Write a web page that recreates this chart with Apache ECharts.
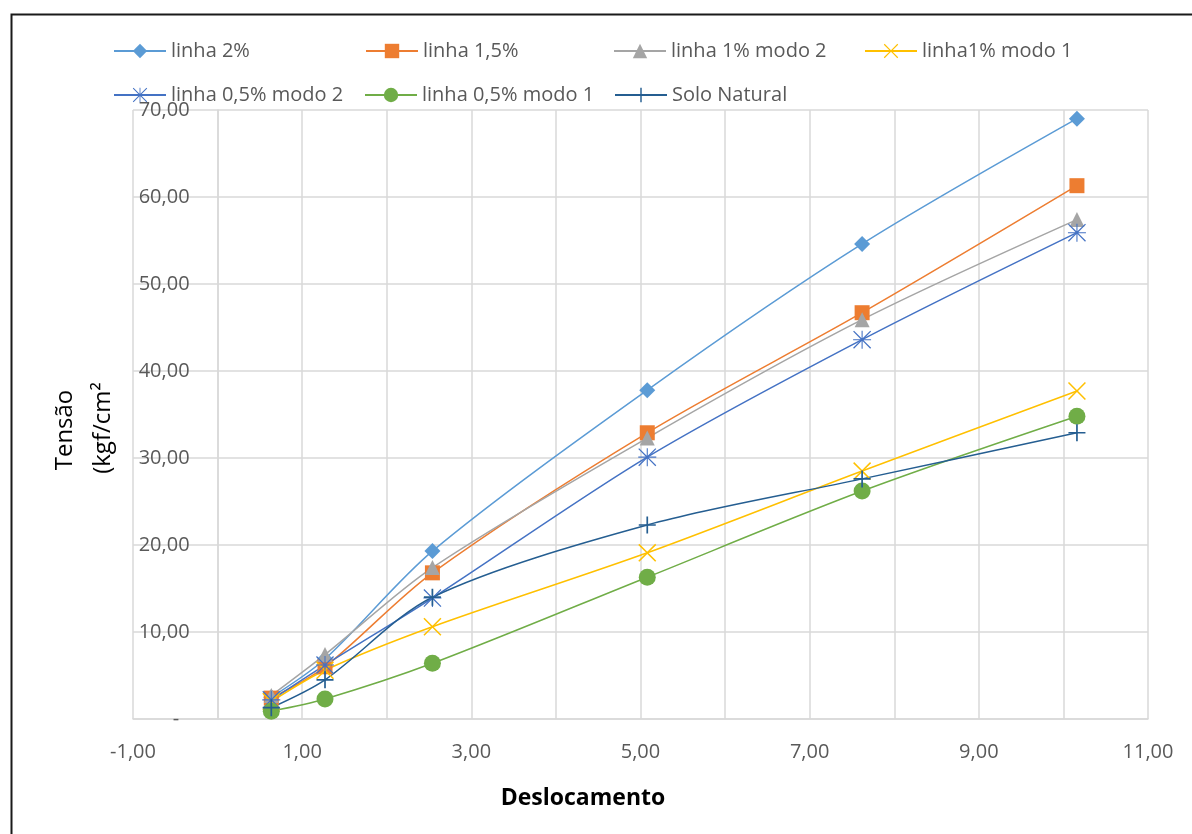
<!DOCTYPE html>
<html>
<head>
<meta charset="utf-8">
<script src="https://cdn.jsdelivr.net/npm/echarts@6/dist/echarts.min.js"></script>
<style>
html,body{margin:0;padding:0;background:#fff;}
#chart{width:1192px;height:834px;}
</style>
</head>
<body>
<div id="chart"></div>
<script>
// Data
var deslocamento = [0.635, 1.27, 2.54, 5.08, 7.62, 10.16];
var linha2 = [2.5, 6.9, 19.3, 37.8, 54.6, 69.0];
var linha15 = [2.4, 6.0, 16.8, 32.9, 46.7, 61.3];
var linha1m2 = [2.7, 7.4, 17.4, 32.3, 45.9, 57.4];
var linha1m1 = [2.0, 5.6, 10.6, 19.1, 28.5, 37.7];
var linha05m2 = [2.2, 6.2, 13.9, 30.1, 43.6, 55.9];
var linha05m1 = [0.9, 2.3, 6.4, 16.3, 26.2, 34.8];
var soloNatural = [1.3, 4.5, 14.0, 22.3, 27.6, 32.9];
var seriesNames = ['linha 2%', 'linha 1,5%', 'linha 1% modo 2', 'linha1% modo 1', 'linha 0,5% modo 2', 'linha 0,5% modo 1', 'Solo Natural'];

var FONT = "'Open Sans', 'Liberation Sans', sans-serif";
var PLUS = 'path://M9,0 H11 V9 H20 V11 H11 V20 H9 V11 H0 V9 H9 Z';
var XMARK = 'path://M0,1.2 L1.2,0 L10,8.8 L18.8,0 L20,1.2 L11.2,10 L20,18.8 L18.8,20 L10,11.2 L1.2,20 L0,18.8 L8.8,10 Z';
var STAR = 'path://M9.4,0 H10.6 V9.4 H20 V10.6 H10.6 V20 H9.4 V10.6 H0 V9.4 H9.4 Z M0,1 L1,0 L10,9 L19,0 L20,1 L11,10 L20,19 L19,20 L10,11 L1,20 L0,19 L9,10 Z';

function pairs(ys){ return deslocamento.map(function(x,i){ return [x, ys[i]]; }); }

var defs = [
  {name: seriesNames[0], data: linha2, color: '#5B9BD5', symbol: 'diamond', size: 16},
  {name: seriesNames[1], data: linha15, color: '#ED7D31', symbol: 'rect', size: 15},
  {name: seriesNames[2], data: linha1m2, color: '#A5A5A5', symbol: 'triangle', size: 15},
  {name: seriesNames[3], data: linha1m1, color: '#FFC000', symbol: XMARK, size: 18},
  {name: seriesNames[4], data: linha05m2, color: '#4472C4', symbol: STAR, size: 18},
  {name: seriesNames[5], data: linha05m1, color: '#70AD47', symbol: 'circle', size: 17},
  {name: seriesNames[6], data: soloNatural, color: '#255E91', symbol: PLUS, size: 17}
];

var series = defs.map(function(d){
  return {
    name: d.name, type: 'line', data: pairs(d.data), smooth: 0.3,
    symbol: d.symbol, symbolSize: d.size, symbolKeepAspect: true,
    lineStyle: {color: d.color, width: 1.5},
    itemStyle: {color: d.color, borderWidth: 0},
    emphasis: {disabled: true}
  };
});

var legendPos = [
  {left: 113, top: 41}, {left: 365, top: 41}, {left: 613, top: 41}, {left: 864, top: 41},
  {left: 113, top: 85}, {left: 364, top: 85}, {left: 614, top: 85}
];
var legends = legendPos.map(function(p, i){
  return {
    left: p.left, top: p.top, padding: 0, data: [seriesNames[i]],
    itemWidth: 52, itemHeight: 18, selectedMode: false,
    textStyle: {fontFamily: FONT, fontSize: 20, color: '#595959', lineHeight: 20}
  };
});

function fmt(v){ return v.toFixed(2).replace('.', ','); }

var X_MIN = -1, X_MAX = 11;
var GRID_LEFT = 133, GRID_RIGHT = 44;
var unitPx = (1192 - GRID_LEFT - GRID_RIGHT) / (X_MAX - X_MIN);

var chart = echarts.init(document.getElementById('chart'));
chart.setOption({
  animation: false,
  backgroundColor: '#fff',
  legend: legends,
  grid: {left: GRID_LEFT, right: GRID_RIGHT, top: 110, bottom: 115, containLabel: false},
  xAxis: {
    type: 'value', min: X_MIN, max: X_MAX, interval: 1,
    axisLine: {show: true, onZero: false, lineStyle: {color: '#d9d9d9', width: 1.5}},
    axisTick: {show: false},
    splitLine: {show: true, lineStyle: {color: '#d9d9d9', width: 1.5}},
    axisLabel: {
      showMinLabel: true, showMaxLabel: true, margin: 23,
      fontFamily: FONT, fontSize: 20, color: '#595959',
      formatter: function(v){
        var r = Math.round(v);
        return (((r % 2) + 2) % 2 === 1) ? fmt(r) : '';
      }
    }
  },
  yAxis: {
    type: 'value', min: 0, max: 70, interval: 10,
    offset: -unitPx * (0 - X_MIN),
    axisLine: {show: true, onZero: false, lineStyle: {color: '#d9d9d9', width: 1.5}},
    axisTick: {show: false},
    splitLine: {show: true, lineStyle: {color: '#d9d9d9', width: 1.5}},
    axisLabel: {
      margin: 28, fontFamily: FONT, fontSize: 20, color: '#595959',
      formatter: function(v){ return v === 0 ? '-  ' : fmt(v); }
    }
  },
  graphic: [
    {type: 'rect', left: 9, top: 12, shape: {width: 1200, height: 900},
     style: {fill: 'none', stroke: '#1a1a1a', lineWidth: 2}, silent: true, z: 100},
    {type: 'text', x: 65, y: 430, rotation: Math.PI / 2,
     style: {text: 'Tensão', font: '24px ' + FONT, fill: '#000', textAlign: 'center', textVerticalAlign: 'middle'}},
    {type: 'text', x: 103, y: 428, rotation: Math.PI / 2,
     style: {text: '(kgf/cm²', font: '24px ' + FONT, fill: '#000', textAlign: 'center', textVerticalAlign: 'middle'}},
    {type: 'text', x: 583, y: 798,
     style: {text: 'Deslocamento', font: 'bold 23px ' + FONT, fill: '#000', textAlign: 'center', textVerticalAlign: 'middle'}}
  ],
  series: series
});
</script>
</body>
</html>
